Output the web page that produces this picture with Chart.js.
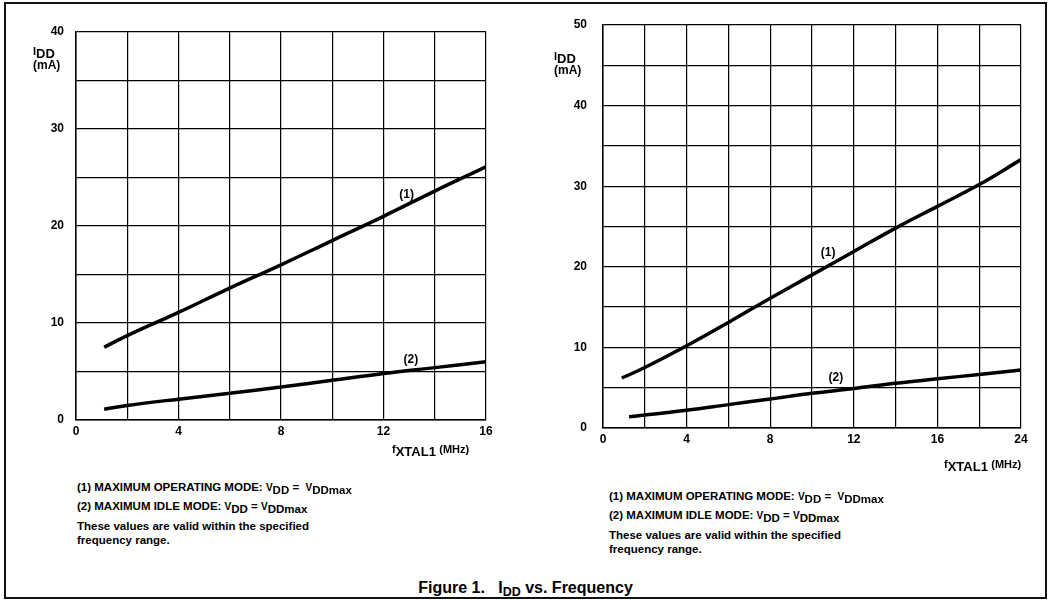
<!DOCTYPE html>
<html>
<head>
<meta charset="utf-8">
<title>IDD vs. Frequency</title>
<script src="https://cdn.jsdelivr.net/npm/chart.js@4.4.0/dist/chart.umd.min.js"></script>
<style>
  html, body { margin: 0; padding: 0; background: #fff; }
  body {
    width: 1051px; height: 600px; position: relative; overflow: hidden;
    font-family: "Liberation Sans", Arial, Helvetica, sans-serif;
    font-weight: bold; color: #000;
  }
  .frame { position: absolute; left: 4px; top: 2px; width: 1039px; height: 593px; border: 2px solid #111; }
  canvas { position: absolute; top: 0; }
  #chartLeft { left: 0; }
  #chartRight { left: 530px; }
  .txt { position: absolute; white-space: nowrap; font-size: 11.5px; line-height: 14px; }
  .txt .s { font-size: 11.5px; position: relative; top: 3px; }
  .txt .m { font-size: 10px; }
  .ax { position: absolute; white-space: nowrap; font-size: 12px; line-height: 14px; }
  .ax .s { font-size: 13px; position: relative; top: 3px; }
  .ax .m { font-size: 11px; }
  .cap { position: absolute; left: 0; width: 1051px; top: 580px; text-align: center; font-size: 16px; line-height: 16px; white-space: nowrap; }
  .cap .s { font-size: 12.5px; position: relative; top: 3px; }
</style>
</head>
<body>
<div class="frame"></div>
<canvas id="chartLeft" width="530" height="470"></canvas>
<canvas id="chartRight" width="521" height="470"></canvas>

<!-- axis titles -->
<div class="ax" style="left:33px; top:44px;"><span class="m">I</span><span class="s">DD</span><br>(mA)</div>
<div class="ax" style="left:392px; top:442px;"><span class="m">f</span><span class="s">XTAL1</span> <span class="m">(MHz)</span></div>
<div class="ax" style="left:554px; top:49px;"><span class="m">I</span><span class="s">DD</span><br>(mA)</div>
<div class="ax" style="left:944px; top:457px;"><span class="m">f</span><span class="s">XTAL1</span> <span class="m">(MHz)</span></div>

<!-- notes -->
<div class="txt" style="left:77px; top:480px;">(1) MAXIMUM OPERATING MODE: <span class="m">V</span><span class="s">DD</span> =&nbsp; <span class="m">V</span><span class="s">DDmax</span></div>
<div class="txt" style="left:77px; top:499px;">(2) MAXIMUM IDLE MODE: <span class="m">V</span><span class="s">DD</span> = <span class="m">V</span><span class="s">DDmax</span></div>
<div class="txt" style="left:77px; top:519px;">These values are valid within the specified<br>frequency range.</div>

<div class="txt" style="left:609px; top:489px;">(1) MAXIMUM OPERATING MODE: <span class="m">V</span><span class="s">DD</span> =&nbsp; <span class="m">V</span><span class="s">DDmax</span></div>
<div class="txt" style="left:609px; top:508px;">(2) MAXIMUM IDLE MODE: <span class="m">V</span><span class="s">DD</span> = <span class="m">V</span><span class="s">DDmax</span></div>
<div class="txt" style="left:609px; top:528px;">These values are valid within the specified<br>frequency range.</div>

<div class="cap">Figure 1.&nbsp;&nbsp; I<span class="s">DD</span> vs. Frequency</div>

<script>
// ---- left chart (0 - 16 MHz)
var leftFreq = [1.1, 2, 4, 6, 8, 10, 12, 14, 16];
var leftOperating = [7.5, 8.7, 11.1, 13.6, 16.0, 18.5, 21.0, 23.6, 26.1];
var leftIdle = [1.1, 1.5, 2.15, 2.75, 3.4, 4.1, 4.8, 5.4, 6.0];
var leftXTicks = ['0', '', '4', '', '8', '', '12', '', '16'];
var leftYTicks = ['0', '', '10', '', '20', '', '30', '', '40'];

// ---- right chart (x axis drawn in grid steps, labelled as printed)
var rightFreqOperating = [0.9, 2, 4, 6, 8, 10, 12, 14, 16, 18, 20];
var rightOperating = [6.2, 7.5, 10.2, 13.1, 16.1, 19.0, 21.9, 24.8, 27.5, 30.2, 33.3];
var rightFreqIdle = [1.25, 2, 4, 6, 8, 10, 12, 14, 16, 18, 20];
var rightIdle = [1.4, 1.6, 2.2, 2.9, 3.6, 4.3, 4.9, 5.55, 6.1, 6.65, 7.2];
var rightXTicks = ['0', '', '4', '', '8', '', '12', '', '16', '', '24'];
var rightYTicks = ['0', '', '10', '', '20', '', '30', '', '40', '', '50'];

// curve markers "(1)" / "(2)" in data units
var leftTags = [{ text: '(1)', x: 12.9, y: 23.2 }, { text: '(2)', x: 13.07, y: 6.2 }];
var rightTags = [{ text: '(1)', x: 10.77, y: 21.8 }, { text: '(2)', x: 11.14, y: 6.3 }];

var FONT = '"Liberation Sans", Arial, Helvetica, sans-serif';

function toPoints(xs, ys) {
    return xs.map(function (x, i) { return { x: x, y: ys[i] }; });
}

// writes the (1)/(2) tags next to the curves
const curveTags = {
    id: 'curveTags',
    afterDatasetsDraw(chart, args, opts) {
        const ctx = chart.ctx;
        const xs = chart.scales.x, ys = chart.scales.y;
        ctx.save();
        ctx.font = 'bold 12px ' + FONT;
        ctx.fillStyle = '#000';
        ctx.textAlign = 'center';
        ctx.textBaseline = 'middle';
        opts.tags.forEach(function (t) {
            ctx.fillText(t.text, xs.getPixelForValue(t.x), ys.getPixelForValue(t.y));
        });
        ctx.restore();
    }
};

function lineSet(points) {
    return {
        data: points,
        borderColor: '#000',
        borderWidth: 3.5,
        pointRadius: 0,
        tension: 0.4,
        fill: false
    };
}

function drawChart(id, o) {
    const ctx = document.getElementById(id).getContext('2d');
    return new Chart(ctx, {
        type: 'line',
        data: { datasets: o.datasets },
        options: {
            responsive: false,
            animation: false,
            events: [],
            layout: { padding: o.padding },
            plugins: {
                legend: { display: false },
                tooltip: { enabled: false },
                curveTags: { tags: o.tags }
            },
            scales: {
                x: {
                    type: 'linear',
                    min: 0, max: o.xMax,
                    afterFit: function (s) { s.height = o.xHeight; },
                    ticks: {
                        stepSize: 2, autoSkip: false, maxRotation: 0, padding: 4,
                        color: '#000', font: { family: FONT, size: 12, weight: 'bold' },
                        callback: function (v, i) { return o.xTicks[i]; }
                    },
                    grid: { color: '#000', lineWidth: 1.2, drawTicks: false },
                    border: { color: '#000', width: 1.5 }
                },
                y: {
                    type: 'linear',
                    min: 0, max: o.yMax,
                    afterFit: function (s) { s.width = o.yWidth; },
                    ticks: {
                        stepSize: 5, autoSkip: false, padding: o.yPad,
                        color: '#000', font: { family: FONT, size: 12, weight: 'bold' },
                        callback: function (v, i) { return o.yTicks[i]; }
                    },
                    grid: { color: '#000', lineWidth: 1.2, drawTicks: false },
                    border: { color: '#000', width: 1.5 }
                }
            }
        },
        plugins: [curveTags]
    });
}

drawChart('chartLeft', {
    datasets: [lineSet(toPoints(leftFreq, leftOperating)), lineSet(toPoints(leftFreq, leftIdle))],
    padding: { top: 32, right: 44, left: 0, bottom: 0 },
    xMax: 16, yMax: 40, xHeight: 50, yWidth: 76, yPad: 12,
    xTicks: leftXTicks, yTicks: leftYTicks, tags: leftTags
});

drawChart('chartRight', {
    datasets: [lineSet(toPoints(rightFreqOperating, rightOperating)), lineSet(toPoints(rightFreqIdle, rightIdle))],
    padding: { top: 25, right: 30, left: 0, bottom: 0 },
    xMax: 20, yMax: 50, xHeight: 42, yWidth: 73, yPad: 16,
    xTicks: rightXTicks, yTicks: rightYTicks, tags: rightTags
});
</script>
</body>
</html>
